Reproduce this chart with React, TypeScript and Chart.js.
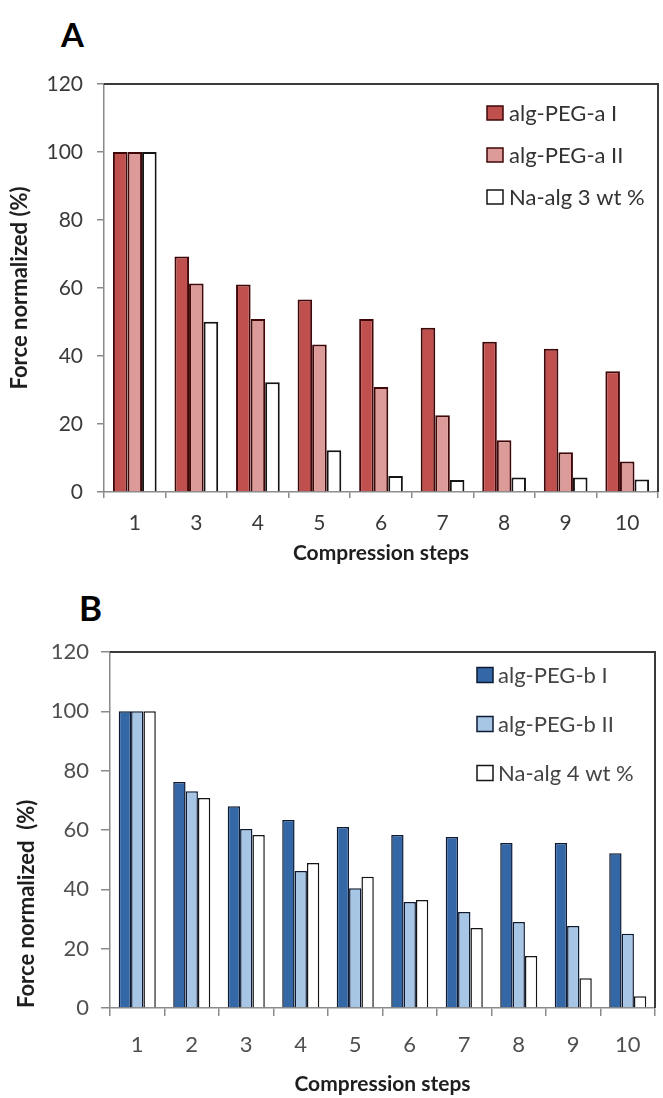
import React, { useEffect, useRef } from "react";
import { Chart, registerables } from "chart.js";

Chart.register(...registerables);
Chart.defaults.font.family = "Lato";

// ---------- data ----------
const stepsA = ["1", "3", "4", "5", "6", "7", "8", "9", "10"];
const pegAI = [100, 69.3, 61, 56.6, 50.9, 48.3, 44.2, 42.1, 35.5];
const pegAII = [100, 61.3, 50.9, 43.4, 30.9, 22.6, 15.2, 11.7, 9];
const naAlg3 = [100, 50.1, 32.3, 12.3, 4.7, 3.5, 4.3, 4.3, 3.7];

const stepsB = ["1", "2", "3", "4", "5", "6", "7", "8", "9", "10"];
const pegBI = [100, 76.2, 68, 63.4, 61, 58.3, 57.6, 55.6, 55.6, 52.2];
const pegBII = [100, 73.1, 60.3, 46.2, 40.4, 35.7, 32.4, 29, 27.6, 25];
const naAlg4 = [100, 70.8, 58.3, 48.9, 44.2, 36.4, 27, 17.5, 10, 4];

const labelsA = ["alg-PEG-a I", "alg-PEG-a II", "Na-alg 3 wt %"];
const labelsB = ["alg-PEG-b I", "alg-PEG-b II", "Na-alg 4 wt %"];

const yMin = 0;
const yMax = 120;
const yStep = 20;

// ---------- plugins ----------
const insideLegend = {
  id: "insideLegend",
  afterDraw(chart: any, _args: any, opts: any) {
    const ctx = chart.ctx;
    ctx.save();
    ctx.font = opts.font;
    ctx.textBaseline = "middle";
    ctx.textAlign = "left";
    chart.data.datasets.forEach((ds: any, i: number) => {
      const y = opts.y + i * opts.spacing;
      ctx.fillStyle = ds.backgroundColor;
      ctx.fillRect(opts.x, y - opts.boxH / 2, opts.boxW, opts.boxH);
      ctx.strokeStyle = ds.borderColor;
      ctx.lineWidth = 1.5;
      ctx.strokeRect(opts.x, y - opts.boxH / 2, opts.boxW, opts.boxH);
      ctx.fillStyle = opts.color;
      ctx.fillText(ds.label, opts.x + opts.boxW + opts.gap, y + 1);
    });
    ctx.restore();
  },
};

const frame = {
  id: "frame",
  afterDatasetsDraw(chart: any, _args: any, opts: any) {
    const { left, right, top, bottom } = chart.chartArea;
    const ctx = chart.ctx;
    ctx.save();
    ctx.strokeStyle = opts.color;
    ctx.lineWidth = opts.width;
    ctx.beginPath();
    ctx.moveTo(left, top);
    ctx.lineTo(right, top);
    ctx.lineTo(right, bottom);
    ctx.stroke();
    ctx.restore();
  },
};

function makeConfig(p: any) {
  return {
    type: "bar",
    data: {
      labels: p.labels,
      datasets: p.series.map((s: any) => ({
        label: s.label,
        data: s.data,
        backgroundColor: s.bg,
        borderColor: s.border,
        borderWidth: p.borderWidth,
        categoryPercentage: p.catPct,
        barPercentage: 1,
      })),
    },
    options: {
      responsive: false,
      animation: false,
      layout: { padding: p.padding },
      plugins: {
        legend: { display: false },
        tooltip: { enabled: false },
        insideLegend: p.legend,
        frame: { color: "#3a3a3a", width: 2 },
      },
      scales: {
        x: {
          afterFit: (s: any) => {
            s.height = p.xHeight;
          },
          grid: {
            display: true,
            drawOnChartArea: false,
            drawTicks: true,
            tickLength: p.xTickLen,
            color: "#8a8a8a",
            lineWidth: 1.5,
            offset: true,
          },
          border: { display: true, color: "#8a8a8a", width: 1.5 },
          ticks: {
            color: p.tickColor,
            font: { size: p.tickSize },
            padding: p.xTickPad,
            maxRotation: 0,
            autoSkip: false,
          },
          title: {
            display: true,
            text: "Compression steps",
            color: "#1e1e1e",
            font: { size: 21, weight: "bold" },
            padding: { top: 0, bottom: p.xTitlePad },
          },
        },
        y: {
          min: yMin,
          max: yMax,
          afterFit: (s: any) => {
            s.width = p.yWidth;
          },
          grid: {
            display: true,
            drawOnChartArea: false,
            drawTicks: true,
            tickLength: p.yTickLen,
            color: "#8a8a8a",
            lineWidth: 1.5,
          },
          border: { display: true, color: "#8a8a8a", width: 1.5 },
          ticks: {
            stepSize: yStep,
            color: p.tickColor,
            font: { size: p.tickSize },
            padding: p.yTickPad,
          },
          title: {
            display: true,
            text: p.yTitle,
            align: p.yTitleAlign,
            color: "#1e1e1e",
            font: { size: 22, weight: "bold" },
            padding: { top: p.yTitlePad, bottom: 0 },
          },
        },
      },
    },
    plugins: [insideLegend, frame],
  };
}

function Panel({ config, width, height, top }: any) {
  const ref = useRef<HTMLCanvasElement | null>(null);
  useEffect(() => {
    if (!ref.current) return;
    const chart = new Chart(ref.current, config);
    return () => chart.destroy();
  }, []);
  return (
    <canvas
      ref={ref}
      width={width}
      height={height}
      style={{ position: "absolute", left: 0, top, width, height }}
    />
  );
}

const configA = makeConfig({
  labels: stepsA,
  series: [
    { label: labelsA[0], data: pegAI, bg: "#c0504d", border: "#3f0707" },
    { label: labelsA[1], data: pegAII, bg: "#dc9a98", border: "#3f0707" },
    { label: labelsA[2], data: naAlg3, bg: "#ffffff", border: "#151515" },
  ],
  borderWidth: 2,
  catPct: 0.71,
  padding: { top: 84, right: 5, left: 0, bottom: 0 },
  xHeight: 83,
  yWidth: 104,
  xTickLen: 6,
  yTickLen: 7,
  xTickPad: 13,
  yTickPad: 14,
  xTitlePad: 9,
  yTitlePad: 7,
  tickSize: 21,
  tickColor: "#3a3a3a",
  yTitle: "Force normalized (%)",
  yTitleAlign: "center",
  legend: {
    x: 487,
    y: 113,
    spacing: 42,
    boxW: 16,
    boxH: 14,
    gap: 6,
    font: "22px Lato",
    color: "#333333",
  },
});

const configB = makeConfig({
  labels: stepsB,
  series: [
    { label: labelsB[0], data: pegBI, bg: "#3467a5", border: "#0c1a33" },
    { label: labelsB[1], data: pegBII, bg: "#a7c5e4", border: "#0c1a33" },
    { label: labelsB[2], data: naAlg4, bg: "#ffffff", border: "#151515" },
  ],
  borderWidth: 1.5,
  catPct: 0.68,
  padding: { top: 77, right: 8, left: 0, bottom: 0 },
  xHeight: 90,
  yWidth: 110,
  xTickLen: 8,
  yTickLen: 9,
  xTickPad: 16,
  yTickPad: 12,
  xTitlePad: 1,
  yTitlePad: 14,
  tickSize: 22,
  tickColor: "#505050",
  yTitle: "Force normalized  (%)",
  yTitleAlign: "start",
  legend: {
    x: 477,
    y: 100,
    spacing: 49,
    boxW: 16,
    boxH: 15,
    gap: 5,
    font: "22px Lato",
    color: "#444444",
  },
});

export default function App() {
  return (
    <div
      style={{
        position: "absolute",
        left: 0,
        top: 0,
        width: 663,
        height: 1098,
        background: "#ffffff",
        overflow: "hidden",
      }}
    >
      <div
        style={{
          position: "absolute",
          left: 61,
          top: 18,
          fontFamily: "Lato",
          fontWeight: 700,
          fontSize: 33,
          lineHeight: 1,
          color: "#000",
        }}
      >
        A
      </div>
      <Panel config={configA} width={663} height={575} top={0} />
      <div
        style={{
          position: "absolute",
          left: 79,
          top: 590,
          fontFamily: "Lato",
          fontWeight: 700,
          fontSize: 35,
          lineHeight: 1,
          color: "#000",
        }}
      >
        B
      </div>
      <Panel config={configB} width={663} height={523} top={575} />
    </div>
  );
}
